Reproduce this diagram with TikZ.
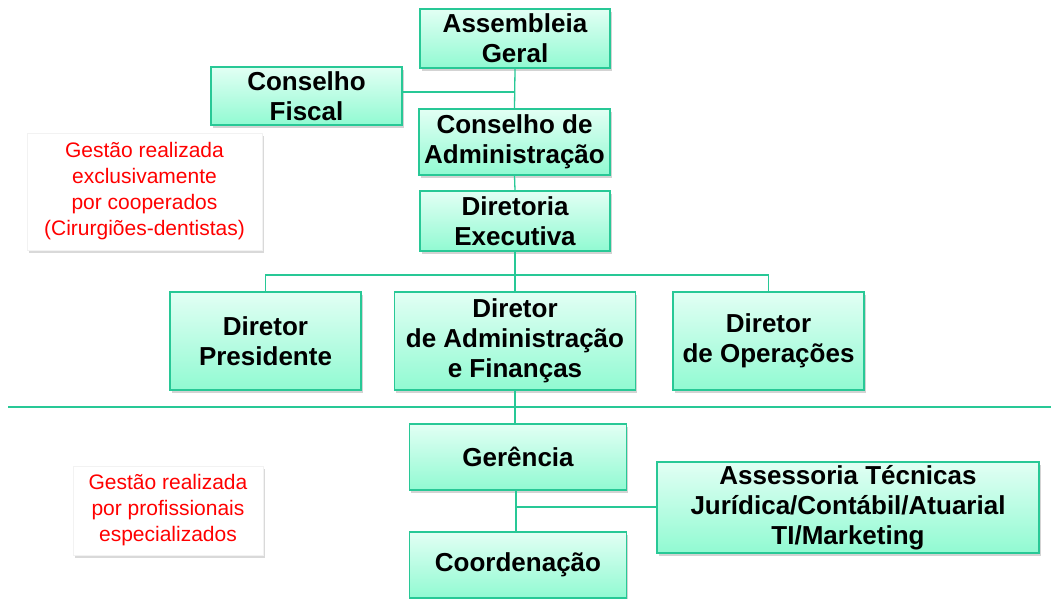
\documentclass[tikz,border=0pt]{standalone}
\usepackage{fontspec}
\setmainfont{Liberation Sans}
\usetikzlibrary{shadows}

\definecolor{orgteal}{RGB}{40,200,150}
\definecolor{orgtop}{RGB}{226,255,244}
\definecolor{orgbottom}{RGB}{145,250,210}
\definecolor{notered}{RGB}{255,0,0}

\tikzset{every picture/.style={line width=0.75pt}}
\tikzset{
  orgbox/.style={draw=orgteal, line width=1.3pt, top color=orgtop, bottom color=orgbottom,
    drop shadow={shadow xshift=1.5pt, shadow yshift=-2.5pt, opacity=0.35},
    inner sep=0pt, align=center, font=\fontsize{26}{30}\selectfont\bfseries},
  notebox/.style={draw=black!5, fill=white, inner sep=0pt, align=center, text=notered,
    drop shadow={shadow xshift=1.5pt, shadow yshift=-2.5pt, opacity=0.3},
    font=\fontsize{21}{26}\selectfont},
  orgline/.style={draw=orgteal, line width=1.3pt}
}

\begin{document}
\begin{tikzpicture}[x=1pt,y=1pt,yscale=-1,xscale=1]
\useasboundingbox (0,0) rectangle (1051,598);

%Shape: Rectangle [upper part]
\node[orgbox, minimum width=190, minimum height=59] (ag) at (515,38.5) {Assembleia\\Geral};
\node[orgbox, minimum width=191, minimum height=58] (cf) at (306.5,96) {Conselho\\Fiscal};
\node[orgbox, minimum width=191, minimum height=66] (ca) at (514.5,142) {Conselho de\\Administração};
\node[orgbox, minimum width=190, minimum height=60] (de) at (515,221) {Diretoria\\Executiva};

%Shape: Rectangle [directors]
\node[orgbox, minimum width=191, minimum height=98] (dp) at (265.5,341) {Diretor\\Presidente};
\node[orgbox, minimum width=241, minimum height=98] (da) at (515,341) {Diretor\\de Administração\\e Finanças};
\node[orgbox, minimum width=191, minimum height=98] (dop) at (768.5,341) {Diretor\\de Operações};

%Shape: Rectangle [lower part]
\node[orgbox, minimum width=217, minimum height=66] (ger) at (518,457) {Gerência};
\node[orgbox, minimum width=217, minimum height=66] (coo) at (518,565) {Coordenação};
\node[orgbox, minimum width=382, minimum height=91] (ass) at (848,507.5) {Assessoria Técnicas\\Jurídica/Contábil/Atuarial\\TI/Marketing};

% Text Node
\node[notebox, minimum width=235, minimum height=117] (nt1) at (144.5,191.5) {Gestão realizada\\exclusivamente\\por cooperados\\(Cirurgiões-dentistas)};
% Text Node
\node[notebox, minimum width=190, minimum height=89] (nt2) at (168,510.5) {Gestão realizada\\por profissionais\\especializados};

%Straight Lines
\coordinate (jf) at (515,92);
\coordinate (bus) at (515,275);
\coordinate (jass) at (516,507);
\draw[orgline] (ag.south) -- (ca.north);
\draw[orgline] (cf.east |- jf) -- (jf);
\draw[orgline] (ca.south) -- (de.north);
\draw[orgline] (de.south) -- (da.north);
\draw[orgline] (dp.north) |- (bus) -| (dop.north);
\draw[orgline] (da.south) -- (da.south |- ger.north);
\draw[orgline] (ger.south -| jass) -- (coo.north -| jass);
\draw[orgline] (jass) -- (jass -| ass.west);

%Separator
\draw[orgteal, line width=2.5pt] (8,407) -- (1051,407);

\end{tikzpicture}
\end{document}
